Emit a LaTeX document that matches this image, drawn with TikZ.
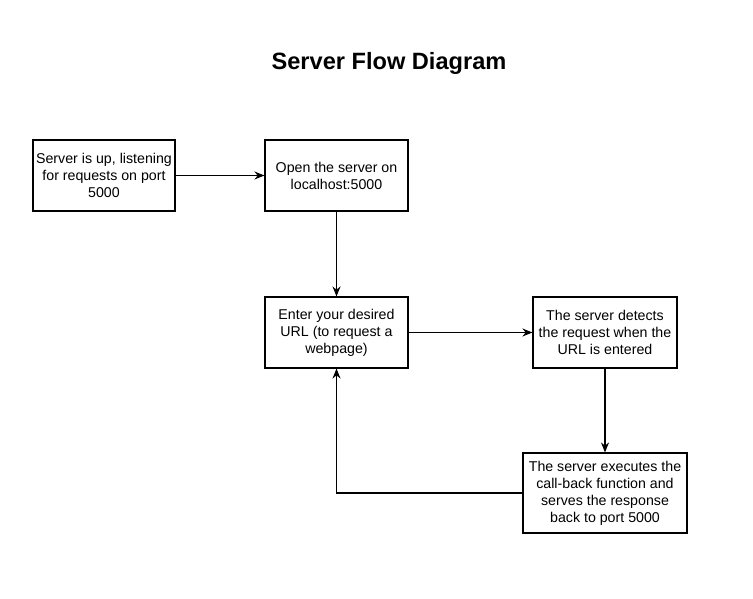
\documentclass[tikz,border=0pt]{standalone}
\usepackage{fontspec}
\setmainfont{Liberation Sans}
\usetikzlibrary{arrows.meta}

\begin{document}
\begin{tikzpicture}[x=1pt,y=-1pt,>={Stealth[length=10pt,width=8pt]},
  box/.style={draw,line width=1.1pt,align=center,inner sep=0pt,
    font=\fontsize{14.2}{17}\selectfont},
  flow/.style={->,line width=1.1pt}]
  \useasboundingbox (0,0) rectangle (753,599);
  \node[font=\bfseries\fontsize{23.6}{28}\selectfont] (title) at (389,63) {Server Flow Diagram};
  \node[box,minimum width=142pt,minimum height=71pt] (up) at (104,175.5)
    {Server is up, listening\\for requests on port\\5000};
  \node[box,minimum width=143pt,minimum height=71pt] (open) at (336.5,175.5)
    {Open the server on\\localhost:5000};
  \node[box,minimum width=143pt,minimum height=71pt] (url) at (336.5,332.5)
    {Enter your desired\\URL (to request a\\webpage)};
  \node[box,minimum width=144pt,minimum height=71pt] (detect) at (605,332.5)
    {The server detects\\the request when the\\URL is entered};
  \node[box,minimum width=164pt,minimum height=80pt] (exec) at (605,493)
    {The server executes the\\call-back function and\\serves the response\\back to port 5000};
  % connectors
  \draw[flow] (up) -- (open);
  \draw[flow] (open) -- (url);
  \draw[flow] (url) -- (detect);
  \draw[flow] (detect) -- (exec);
  \draw[flow] (exec.west) -| (url.south);
\end{tikzpicture}
\end{document}
